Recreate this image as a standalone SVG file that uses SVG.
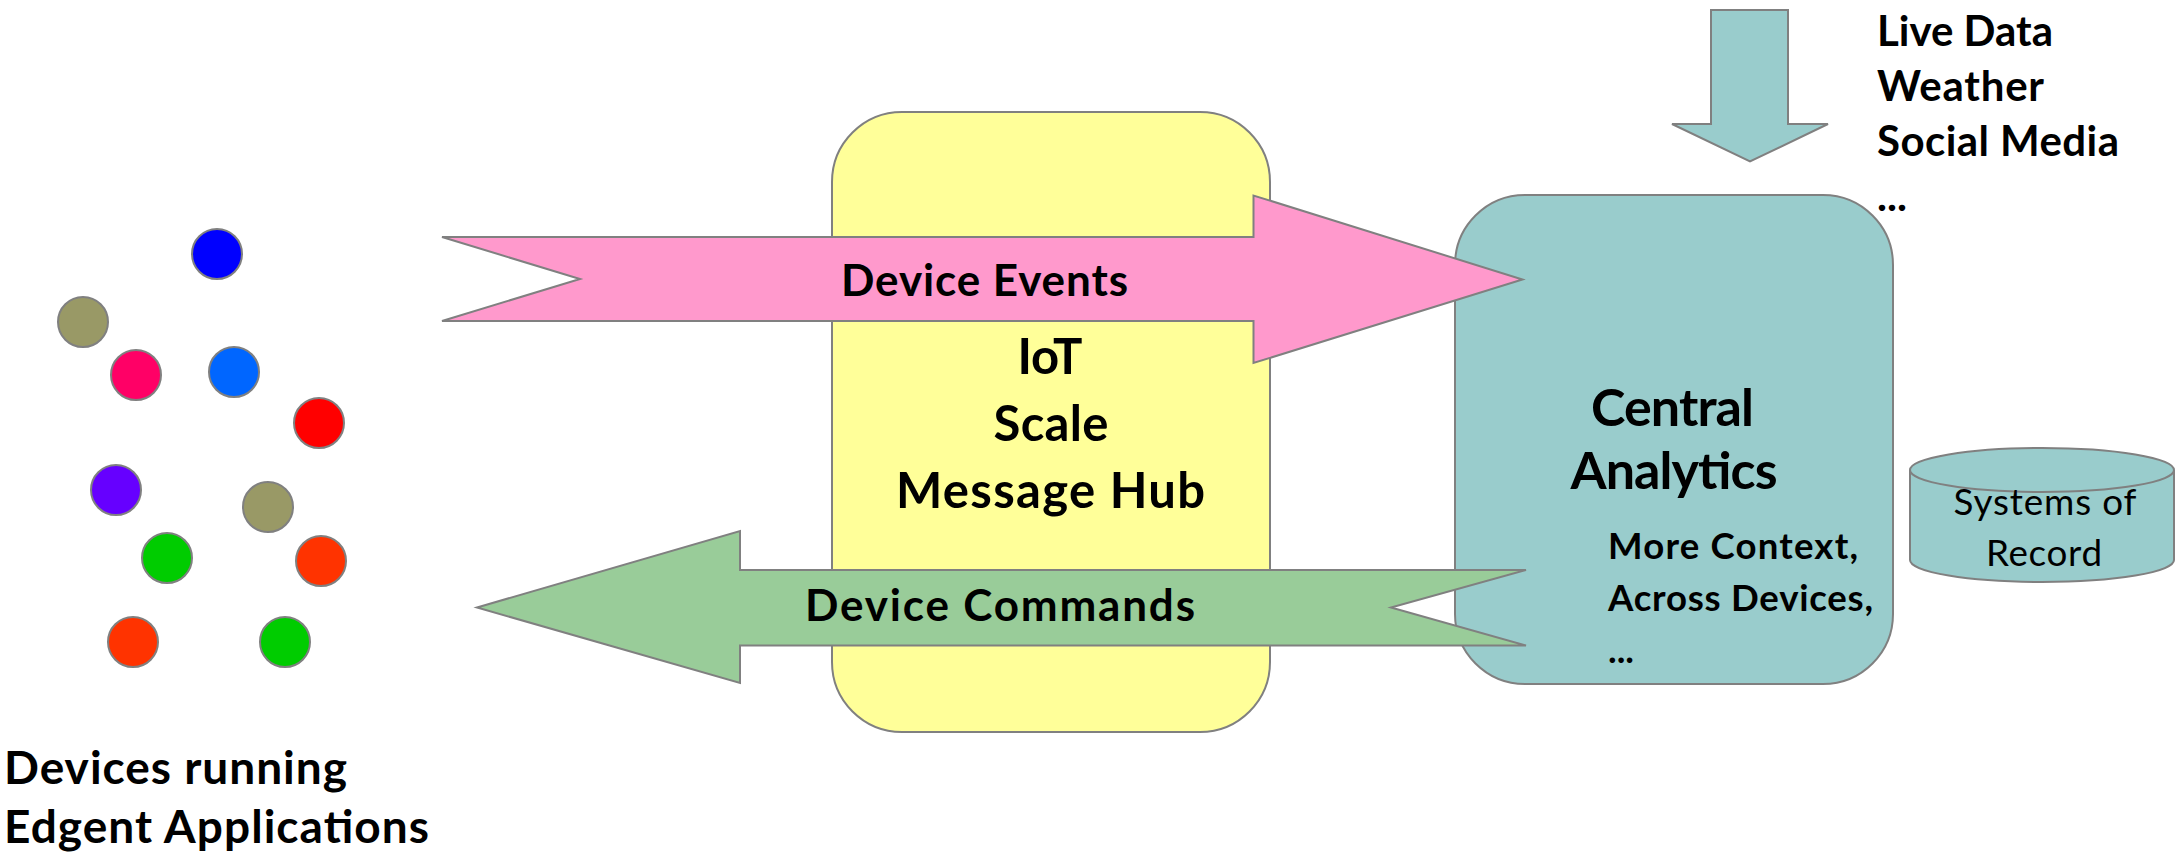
<svg xmlns="http://www.w3.org/2000/svg" width="2175" height="857" viewBox="0 0 2175 857">
  <style>
    .dev { stroke: #808080; stroke-width: 2; }
    .shape { stroke: #808080; stroke-width: 2; }
    .bold { font-family: Lato, "Open Sans", "Liberation Sans", sans-serif; font-weight: bold; fill: #000; }
    .reg { font-family: Lato, "Open Sans", "Liberation Sans", sans-serif; font-weight: normal; fill: #000; }
  </style>

  <rect width="2175" height="857" fill="#ffffff"/>

  <!-- edge devices -->
  <g id="device-1"><circle class="dev" cx="217" cy="254" r="25" fill="#0000FF"/></g>
  <g id="device-2"><circle class="dev" cx="83" cy="322" r="25" fill="#999966"/></g>
  <g id="device-3"><circle class="dev" cx="136" cy="375" r="25" fill="#FF0066"/></g>
  <g id="device-4"><circle class="dev" cx="234" cy="372" r="25" fill="#0066FF"/></g>
  <g id="device-5"><circle class="dev" cx="319" cy="423" r="25" fill="#FF0000"/></g>
  <g id="device-6"><circle class="dev" cx="116" cy="490" r="25" fill="#6600FF"/></g>
  <g id="device-7"><circle class="dev" cx="268" cy="507" r="25" fill="#999966"/></g>
  <g id="device-8"><circle class="dev" cx="167" cy="558" r="25" fill="#00CC00"/></g>
  <g id="device-9"><circle class="dev" cx="321" cy="561" r="25" fill="#FF3300"/></g>
  <g id="device-10"><circle class="dev" cx="133" cy="642" r="25" fill="#FF3300"/></g>
  <g id="device-11"><circle class="dev" cx="285" cy="642" r="25" fill="#00CC00"/></g>

  <g id="devices-label">
    <text class="bold" x="4" y="784" font-size="46" textLength="343">Devices running</text>
    <text class="bold" x="4" y="843" font-size="46" textLength="425">Edgent Applications</text>
  </g>

  <!-- message hub -->
  <g id="message-hub">
    <rect class="shape" x="832" y="112" width="438" height="620" rx="70" ry="70" fill="#FFFF99"/>
    <text class="bold" x="1050" y="374" font-size="49" text-anchor="middle" textLength="65">IoT</text>
    <text class="bold" x="1051" y="441" font-size="49" text-anchor="middle" textLength="115">Scale</text>
    <text class="bold" x="1050.5" y="508" font-size="49" text-anchor="middle" textLength="309">Message Hub</text>
  </g>

  <!-- central analytics -->
  <g id="central-analytics">
    <rect class="shape" x="1455" y="195" width="438" height="489" rx="70" ry="70" fill="#99CCCC"/>
    <text class="bold" x="1672.5" y="426" font-size="52" text-anchor="middle" textLength="163">Central</text>
    <text class="bold" x="1674" y="489" font-size="52" text-anchor="middle" textLength="207">Analytics</text>
    <text class="bold" x="1608" y="559" font-size="36.6" textLength="250">More Context,</text>
    <text class="bold" x="1608" y="611" font-size="36.6" textLength="265">Across Devices,</text>
    <text class="bold" x="1608" y="663" font-size="36.6">...</text>
  </g>

  <!-- systems of record -->
  <g id="systems-of-record">
    <path class="shape" d="M1910,470 L1910,560 A132,22 0 0 0 2174,560 L2174,470" fill="#99CCCC"/>
    <ellipse class="shape" cx="2042" cy="470" rx="132" ry="22" fill="#99CCCC"/>
    <text class="reg" x="2045" y="515" font-size="36.8" text-anchor="middle" textLength="183">Systems of</text>
    <text class="reg" x="2044" y="566" font-size="36.8" text-anchor="middle" textLength="116">Record</text>
  </g>

  <!-- external data sources -->
  <g id="live-data">
    <text class="bold" x="1877" y="46" font-size="42" textLength="176">Live Data</text>
    <text class="bold" x="1877" y="101" font-size="42" textLength="167">Weather</text>
    <text class="bold" x="1877" y="156" font-size="42" textLength="242">Social Media</text>
    <text class="bold" x="1877" y="211" font-size="42">...</text>
  </g>

  <!-- block arrows -->
  <g id="connectors">
    <polygon id="device-events" class="shape" fill="#FF99CC"
      points="442,237 1253.5,237 1253.5,195.5 1522.5,279.5 1253.5,363 1253.5,321 442,321 580,279"/>
    <text class="bold" x="841" y="296" font-size="44" textLength="287">Device Events</text>

    <polygon id="device-commands" class="shape" fill="#99CC99"
      points="477,607.5 740,531 740,570 1526,570 1391,607.5 1526,645.5 740,645.5 740,683"/>
    <text class="bold" x="805" y="621" font-size="44" textLength="390">Device Commands</text>

    <polygon id="live-data-feed" class="shape" fill="#99CCCC"
      points="1711,10 1788,10 1788,124 1828,124 1750,161.5 1672,124 1711,124"/>
  </g>
</svg>
